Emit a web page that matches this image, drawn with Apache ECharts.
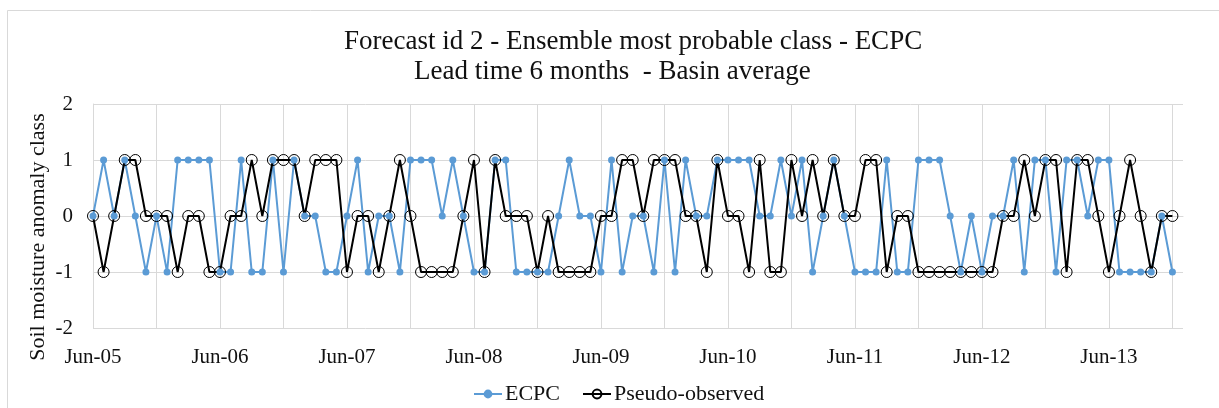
<!DOCTYPE html>
<html>
<head>
<meta charset="utf-8">
<title>Forecast id 2 - Ensemble most probable class - ECPC</title>
<style>
	html, body { margin: 0; padding: 0; background: #fff; }
	#chart { width: 1219px; height: 408px; }
</style>
</head>
<body>
<div id="chart"></div>
<script src="https://cdn.jsdelivr.net/npm/echarts@6/dist/echarts.min.js"></script>
<script type="text/javascript">
// monthly values, Jun-05 .. Dec-13
var ecpc = [
	0, 1, 0, 1, 0, -1, 0, -1, 1, 1, 1, 1,
	-1, -1, 1, -1, -1, 1, -1, 1, 0, 0, -1, -1,
	0, 1, -1, 0, 0, -1, 1, 1, 1, 0, 1, 0,
	-1, -1, 1, 1, -1, -1, -1, -1, 0, 1, 0, 0,
	-1, 1, -1, 0, 0, -1, 1, -1, 1, 0, 0, 1,
	1, 1, 1, 0, 0, 1, 0, 1, -1, 0, 1, 0,
	-1, -1, -1, 1, -1, -1, 1, 1, 1, 0, -1, 0,
	-1, 0, 0, 1, -1, 1, 1, -1, 1, 1, 0, 1,
	1, -1, -1, -1, -1, 0, -1
];
var observed = [
	0, -1, 0, 1, 1, 0, 0, 0, -1, 0, 0, -1,
	-1, 0, 0, 1, 0, 1, 1, 1, 0, 1, 1, 1,
	-1, 0, 0, -1, 0, 1, 0, -1, -1, -1, -1, 0,
	1, -1, 1, 0, 0, 0, -1, 0, -1, -1, -1, -1,
	0, 0, 1, 1, 0, 1, 1, 1, 0, 0, -1, 1,
	0, 0, -1, 1, -1, -1, 1, 0, 1, 0, 1, 0,
	0, 1, 1, -1, 0, 0, -1, -1, -1, -1, -1, -1,
	-1, -1, 0, 0, 1, 0, 1, 1, -1, 1, 1, 0,
	-1, 0, 1, 0, -1, 0, 0
];
var monthNames = ['Jan', 'Feb', 'Mar', 'Apr', 'May', 'Jun', 'Jul', 'Aug', 'Sep', 'Oct', 'Nov', 'Dec'];
var yTicks = [-2, -1, 0, 1, 2];

// category labels: one per month from Jun-05, one spare month at the end of the axis
var months = [];
for (var i = 0; i < ecpc.length + 1; i++) {
	var m = (5 + i) % 12;
	var y = 5 + Math.floor((5 + i) / 12);
	months.push(monthNames[m] + '-' + (y < 10 ? '0' + y : y));
}

var serif = '"Liberation Serif", "Times New Roman", serif';
var gridColor = '#d9d9d9';
var textColor = '#111';

var myChart = echarts.init(document.getElementById('chart'));
var option = {
	animation: false,
	backgroundColor: '#fff',
	title: [{
		text: 'Forecast id 2 - Ensemble most probable class - ECPC',
		left: 339,
		top: 23,
		textStyle: { fontFamily: serif, fontSize: 27, fontWeight: 'normal', color: textColor }
	}, {
		text: 'Lead time 6 months  - Basin average',
		left: 409,
		top: 53,
		textStyle: { fontFamily: serif, fontSize: 27, fontWeight: 'normal', color: textColor }
	}],
	graphic: [{
		type: 'rect',
		silent: true,
		shape: { x: 7.5, y: 10.5, width: 1400, height: 600 },
		style: { fill: 'none', stroke: '#d9d9d9', lineWidth: 1 }
	}, {
		// y axis title, placed like the original (a bit below the plot middle)
		type: 'text',
		silent: true,
		x: 38,
		y: 237,
		rotation: Math.PI / 2,
		style: {
			text: 'Soil moisture anomaly class',
			fontFamily: serif,
			fontSize: 22,
			fill: textColor,
			align: 'center',
			verticalAlign: 'middle'
		}
	}],
	legend: {
		left: 468,
		top: 378,
		itemWidth: 28,
		itemHeight: 11,
		itemGap: 22,
		textStyle: { fontFamily: serif, fontSize: 22, color: textColor, padding: [0, 0, 0, -2] },
		data: ['ECPC', 'Pseudo-observed']
	},
	grid: {
		left: 93,
		right: 36,
		top: 104,
		bottom: 80
	},
	xAxis: {
		type: 'category',
		boundaryGap: false,
		data: months,
		axisLine: { lineStyle: { color: gridColor, width: 1 } },
		axisTick: { show: false },
		axisLabel: {
			interval: 11,
			margin: 19,
			fontFamily: serif,
			fontSize: 21,
			color: textColor
		},
		splitLine: { show: true, interval: 5, lineStyle: { color: gridColor, width: 1 } }
	},
	yAxis: {
		type: 'value',
		min: yTicks[0],
		max: yTicks[yTicks.length - 1],
		interval: 1,
		axisLine: { show: true, lineStyle: { color: gridColor, width: 1 } },
		axisTick: { show: false },
		axisLabel: { margin: 20, fontFamily: serif, fontSize: 21, color: textColor },
		splitLine: { lineStyle: { color: gridColor, width: 1 } }
	},
	series: [{
		name: 'ECPC',
		type: 'line',
		data: ecpc,
		symbol: 'circle',
		symbolSize: 7,
		showAllSymbol: true,
		itemStyle: { color: '#5b9bd5' },
		lineStyle: { color: '#5b9bd5', width: 2 },
		emphasis: { disabled: true }
	}, {
		name: 'Pseudo-observed',
		type: 'line',
		data: observed,
		symbol: 'circle',
		symbolSize: 11,
		showAllSymbol: true,
		itemStyle: { color: 'rgba(255,255,255,0)', borderColor: '#000', borderWidth: 1 },
		lineStyle: { color: '#000', width: 2 },
		emphasis: { disabled: true }
	}]
};
myChart.setOption(option);
</script>
</body>
</html>
